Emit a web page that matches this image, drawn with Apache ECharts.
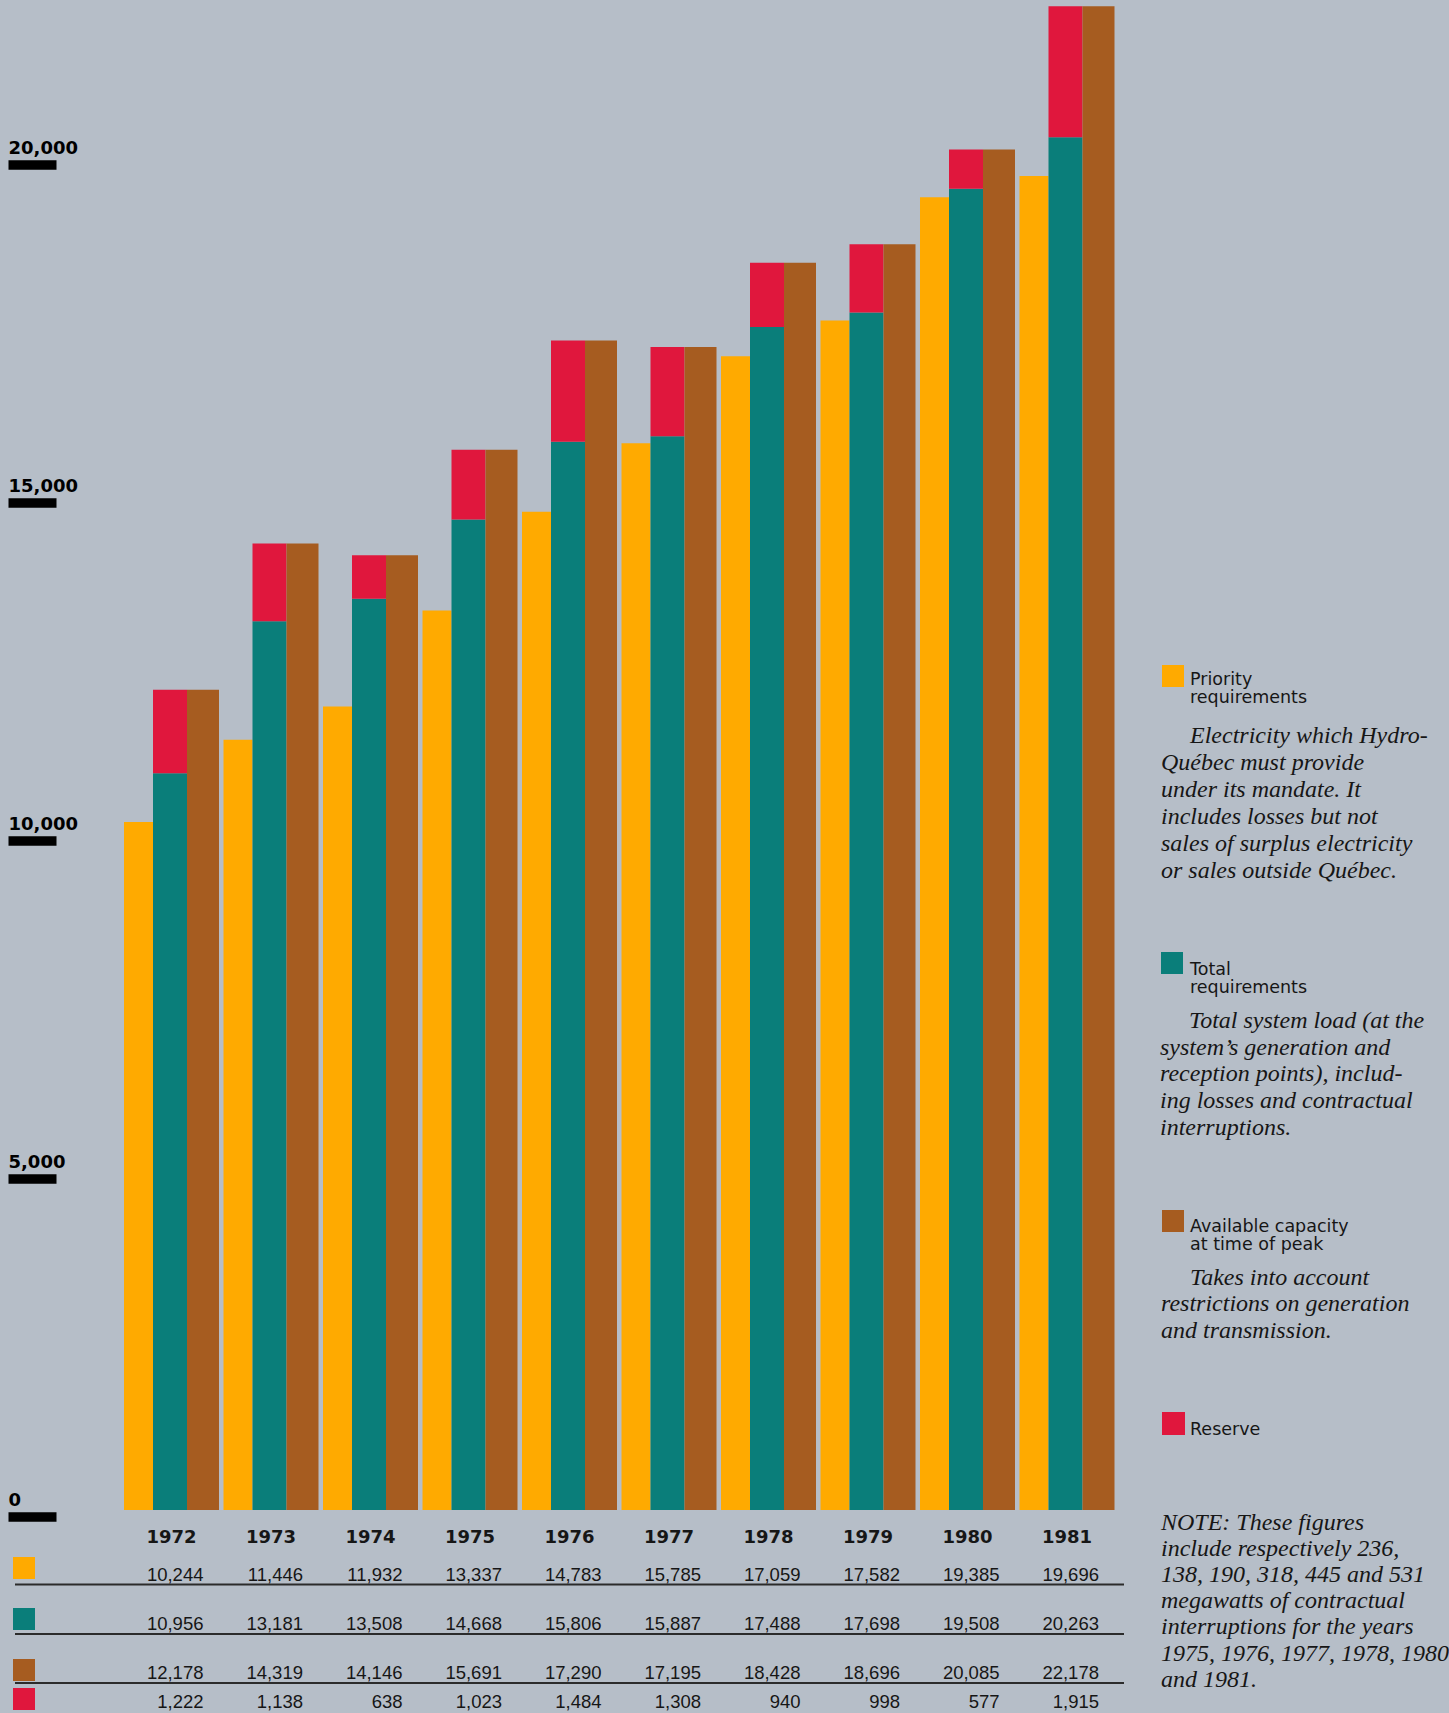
<!DOCTYPE html>
<html>
<head>
<meta charset="utf-8">
<title>Hydro-Québec peak demand and capacity, 1972–1981</title>
<script src="https://cdn.jsdelivr.net/npm/echarts@6/dist/echarts.min.js"></script>
<style>
  html, body { margin: 0; padding: 0; background: #b6bec8; }
  #chart { width: 1449px; height: 1713px; }
</style>
</head>
<body>
<div id="chart"></div>
<script>
// ---- data (megawatts) ----
const years = ['1972', '1973', '1974', '1975', '1976', '1977', '1978', '1979', '1980', '1981'];
const priority = [10244, 11446, 11932, 13337, 14783, 15785, 17059, 17582, 19385, 19696];
const total    = [10956, 13181, 13508, 14668, 15806, 15887, 17488, 17698, 19508, 20263];
const capacity = [12178, 14319, 14146, 15691, 17290, 17195, 18428, 18696, 20085, 22178];
const reserve  = [1222, 1138, 638, 1023, 1484, 1308, 940, 998, 577, 1915];
const yTicks   = [0, 5000, 10000, 15000, 20000];

// ---- legend and notes text ----
const priorityLabel = ['Priority', 'requirements'];
const priorityNote = ['Electricity which Hydro-', 'Québec must provide', 'under its mandate. It',
  'includes losses but not', 'sales of surplus electricity', 'or sales outside Québec.'];
const totalLabel = ['Total', 'requirements'];
const totalNote = ['Total system load (at the', 'system’s generation and', 'reception points), includ-',
  'ing losses and contractual', 'interruptions.'];
const capacityLabel = ['Available capacity', 'at time of peak'];
const capacityNote = ['Takes into account', 'restrictions on generation', 'and transmission.'];
const reserveLabel = ['Reserve'];
const footNote = ['NOTE: These figures', 'include respectively 236,', '138, 190, 318, 445 and 531',
  'megawatts of contractual', 'interruptions for the years', '1975, 1976, 1977, 1978, 1980', 'and 1981.'];

// ---- styling ----
const COLOR = {
  priority: '#ffaa00',
  total: '#0a7e7a',
  capacity: '#a65c20',
  reserve: '#e0173d',
  ink: '#161616'
};
const SANS = '"DejaVu Sans", sans-serif';
const SERIF_IT = 'italic 24px "Liberation Serif", serif';
const fmt = v => v.toLocaleString('en-US');

const chart = echarts.init(document.getElementById('chart'), null, { renderer: 'svg', width: 1449, height: 1713 });

// value rows of the table under the bars, one category axis each
function rowAxis(values, margin) {
  return {
    type: 'category', data: years, gridIndex: 0, position: 'bottom',
    axisLine: { show: false, onZero: false }, axisTick: { show: false }, splitLine: { show: false },
    axisLabel: {
      interval: 0, margin: margin, verticalAlign: 'middle',
      formatter: (v, i) => '{n|' + fmt(values[i]) + '}',
      rich: { n: { width: 64, align: 'right', fontFamily: '"Liberation Sans", Arial, sans-serif', fontSize: 18.5, color: COLOR.ink } }
    }
  };
}

function textLines(lines, xFirst, xRest, y0, lh, font) {
  return lines.map((t, i) => ({
    type: 'text', silent: true,
    x: i === 0 ? xFirst : xRest, y: y0 + i * lh,
    style: { text: t, font: font, fill: COLOR.ink, align: 'left', verticalAlign: 'middle',
             textAlign: 'left', textVerticalAlign: 'middle' }
  }));
}

function swatch(x, y, size, color) {
  return { type: 'rect', silent: true, shape: { x: x, y: y, width: size, height: size }, style: { fill: color } };
}

function rule(y) {
  return { type: 'line', silent: true, shape: { x1: 15, y1: y, x2: 1124, y2: y }, style: { stroke: '#2b2b2b', lineWidth: 2 } };
}

const LABEL_FONT = '17.5px ' + SANS;
const graphics = [].concat(
  // table key swatches and rules
  [swatch(13, 1557, 22, COLOR.priority), swatch(13, 1608, 22, COLOR.total),
   swatch(13, 1659, 22, COLOR.capacity), swatch(13, 1688, 22, COLOR.reserve)],
  [rule(1584.5), rule(1634), rule(1683)],
  // side legend
  [swatch(1162, 665, 22, COLOR.priority)],
  textLines(priorityLabel, 1190, 1190, 678.5, 18, LABEL_FONT),
  textLines(priorityNote, 1190, 1161, 735, 26.9, SERIF_IT),
  [swatch(1161, 952, 22, COLOR.total)],
  textLines(totalLabel, 1190, 1190, 968.5, 18, LABEL_FONT),
  textLines(totalNote, 1189, 1160, 1020, 26.7, SERIF_IT),
  [swatch(1162, 1210, 22, COLOR.capacity)],
  textLines(capacityLabel, 1190, 1190, 1225.5, 18, LABEL_FONT),
  textLines(capacityNote, 1190, 1161, 1277, 26.3, SERIF_IT),
  [swatch(1162, 1412, 23, COLOR.reserve)],
  textLines(reserveLabel, 1190, 1190, 1428.5, 18, LABEL_FONT),
  textLines(footNote, 1161, 1161, 1522, 26.1, SERIF_IT)
);

const option = {
  backgroundColor: '#b6bec8',
  animation: false,
  grid: [
    // bars
    { left: 121.75, top: 0, width: 995, height: 1510, containLabel: false },
    // value scale marks on the left
    { left: 56.5, top: 165, width: 1, height: 1352, containLabel: false }
  ],
  xAxis: [
    {
      type: 'category', data: years, gridIndex: 0, position: 'bottom',
      axisLine: { show: false, onZero: false }, axisTick: { show: false }, splitLine: { show: false },
      axisLabel: { interval: 0, margin: 26, verticalAlign: 'middle', fontFamily: SANS, fontWeight: 'bold', fontSize: 18, color: COLOR.ink }
    },
    rowAxis(priority, 64.5),
    rowAxis(total, 113),
    rowAxis(capacity, 162),
    rowAxis(reserve, 191),
    { type: 'value', gridIndex: 1, show: false }
  ],
  yAxis: [
    { type: 'value', gridIndex: 0, min: 176, max: 22271, show: false, splitLine: { show: false } },
    {
      type: 'value', gridIndex: 1, position: 'left',
      min: yTicks[0], max: yTicks[yTicks.length - 1], interval: yTicks[1] - yTicks[0],
      axisLine: { show: false }, splitLine: { show: false },
      axisTick: { show: true, inside: false, length: 48, lineStyle: { color: '#000', width: 9.5 } },
      axisLabel: {
        margin: 48, align: 'left', verticalAlign: 'bottom', padding: [0, 0, 9, 0],
        fontFamily: SANS, fontWeight: 'bold', fontSize: 18, color: '#000',
        formatter: v => fmt(v)
      }
    }
  ],
  series: [
    { name: 'Priority requirements', type: 'bar', xAxisIndex: 0, yAxisIndex: 0, data: priority,
      barWidth: 29, barGap: '0%', itemStyle: { color: COLOR.priority } },
    { name: 'Total requirements', type: 'bar', xAxisIndex: 0, yAxisIndex: 0, data: total, stack: 'load',
      barWidth: 34, barGap: '0%', itemStyle: { color: COLOR.total } },
    { name: 'Reserve', type: 'bar', xAxisIndex: 0, yAxisIndex: 0, data: reserve, stack: 'load',
      barWidth: 34, barGap: '0%', itemStyle: { color: COLOR.reserve } },
    { name: 'Available capacity at time of peak', type: 'bar', xAxisIndex: 0, yAxisIndex: 0, data: capacity,
      barWidth: 32, barGap: '0%', itemStyle: { color: COLOR.capacity } }
  ],
  graphic: { elements: graphics }
};

chart.setOption(option);
</script>
</body>
</html>
